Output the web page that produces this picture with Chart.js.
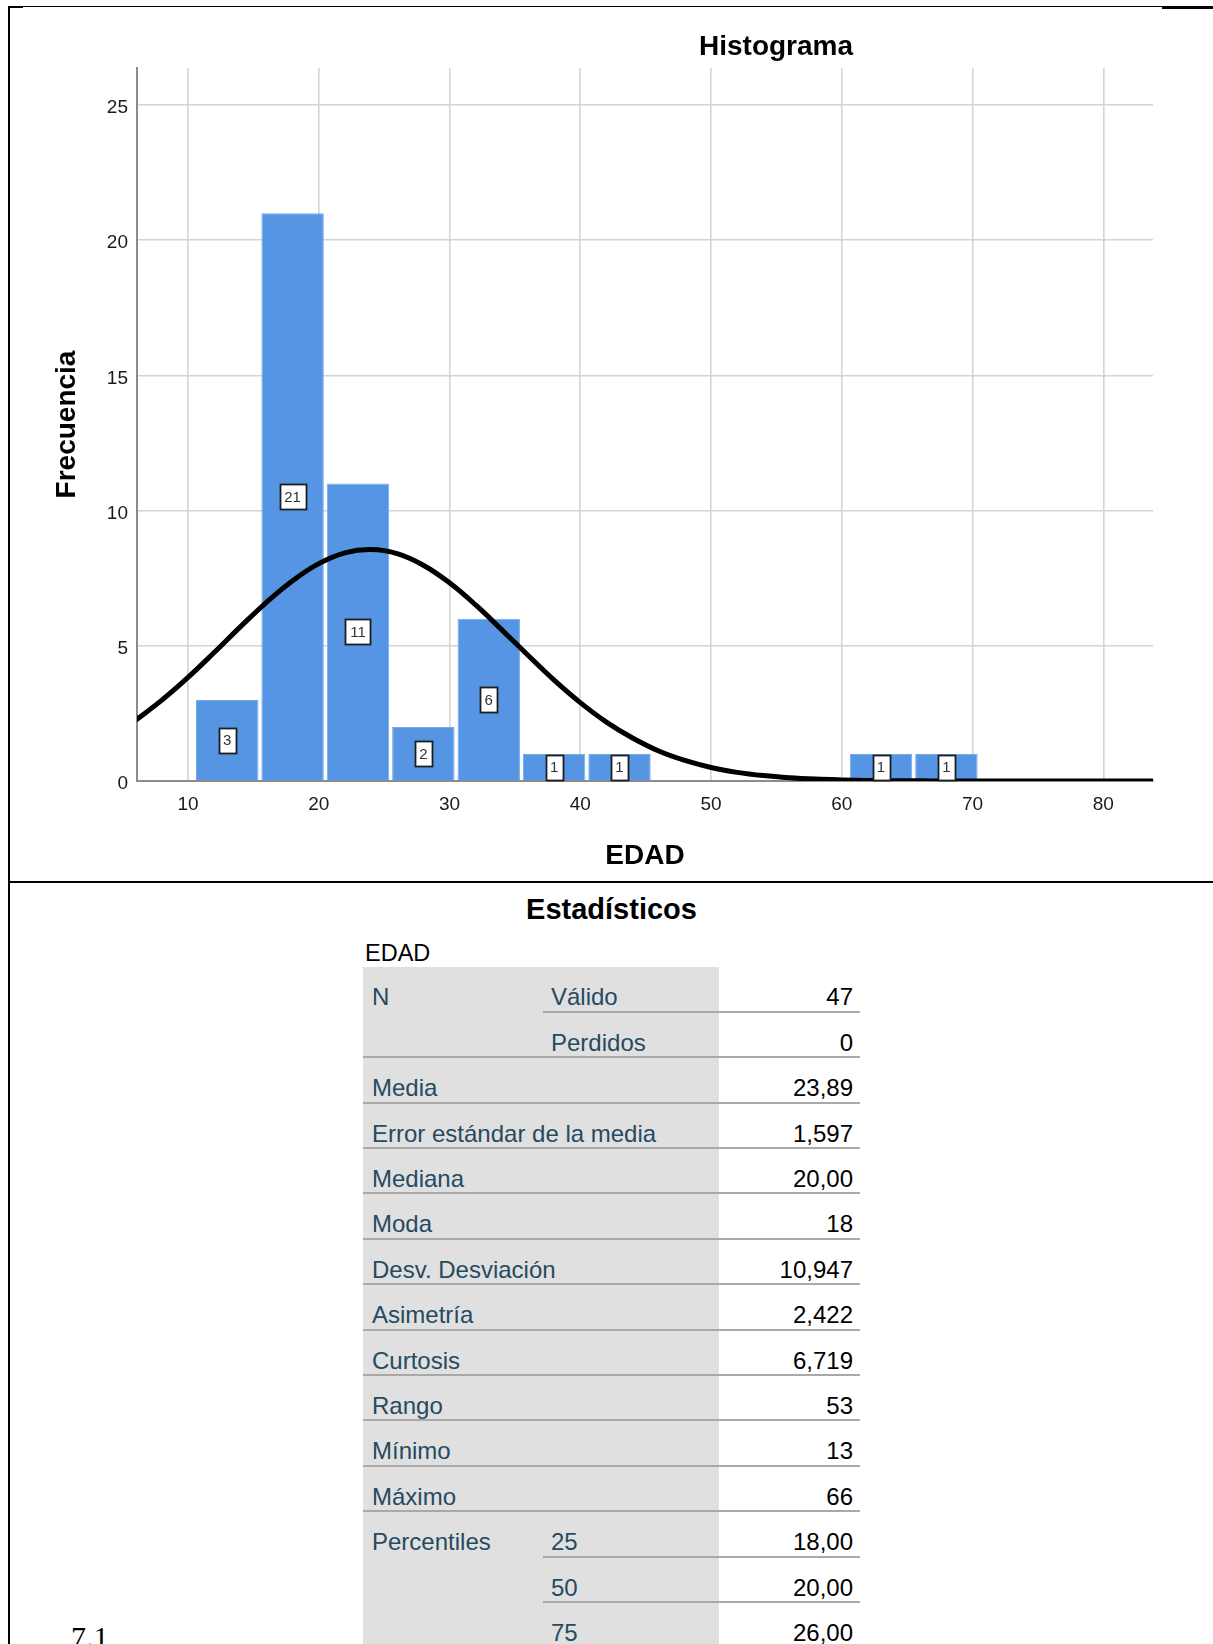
<!DOCTYPE html>
<html lang="es">
<head>
<meta charset="utf-8">
<title>Histograma – EDAD</title>
<script src="https://cdn.jsdelivr.net/npm/chart.js@4/dist/chart.umd.min.js"></script>
<style>
  html, body { margin: 0; padding: 0; background: #fff; }
  body {
    width: 1213px; height: 1644px; position: relative; overflow: hidden;
    font-family: "Liberation Sans", Arial, sans-serif;
  }
  #histo { position: absolute; left: 0; top: 0; }
  .rule { position: absolute; background: #000; z-index: 3; }
  .txt { position: absolute; white-space: nowrap; }
  .lbl { color: #264a60; }
  .val { color: #000; text-align: right; }
  .hline { position: absolute; background: #a9a9a9; height: 2px; }
  #statBand { position: absolute; left: 363px; top: 967px; width: 356px; height: 677px; background: #e0e0e0; }
</style>
</head>
<body>
<canvas id="histo" width="1213" height="880"></canvas>

<!-- frame -->
<div class="rule" style="left:8px;top:6px;width:1154px;height:1px;"></div>
<div class="rule" style="left:8px;top:6px;width:15px;height:2px;"></div>
<div class="rule" style="left:1162px;top:6px;width:51px;height:3px;"></div>
<div class="rule" style="left:8px;top:6px;width:2px;height:1638px;"></div>
<div class="rule" style="left:8px;top:881px;width:1205px;height:2px;"></div>

<div id="statBand"></div>
<div id="stats"></div>

<script>
// ---- histogram of EDAD (bins of width 5) ----
const binCenters = [13, 18, 23, 28, 33, 38, 43, 63, 68];
const binCounts  = [3, 21, 11, 2, 6, 1, 1, 1, 1];

// fitted normal curve (media 23,89; desv. 10,947; N = 47)
const curveX = [6, 8, 10, 12, 14, 16, 18, 20, 22, 24, 26, 28, 30, 32, 34, 36, 38, 40, 42, 44,
                46, 48, 50, 52, 54, 56, 58, 60, 62, 64, 66, 68, 70, 72, 74, 76, 78, 80, 82, 84];
const curveY = [2.25, 2.99, 3.83, 4.75, 5.70, 6.61, 7.41, 8.04, 8.44, 8.56, 8.41, 7.98, 7.33, 6.51,
                5.59, 4.65, 3.73, 2.90, 2.18, 1.59, 1.11, 0.76, 0.50, 0.32, 0.20, 0.12, 0.07, 0.04,
                0.02, 0.01, 0.005, 0, 0, 0, 0, 0, 0, 0, 0, 0];

const xTickValues = [10, 20, 30, 40, 50, 60, 70, 80];
const yTickValues = [0, 5, 10, 15, 20, 25];

// ---- statistics table ----
const statGroup = ['N', '', 'Media', 'Error estándar de la media', 'Mediana', 'Moda',
                   'Desv. Desviación', 'Asimetría', 'Curtosis', 'Rango', 'Mínimo', 'Máximo',
                   'Percentiles', '', ''];
const statSub   = ['Válido', 'Perdidos', '', '', '', '', '', '', '', '', '', '', '25', '50', '75'];
const statValue = ['47', '0', '23,89', '1,597', '20,00', '18', '10,947', '2,422', '6,719',
                   '53', '13', '66', '18,00', '20,00', '26,00'];

const FONT = '"Liberation Sans", Arial, sans-serif';
Chart.defaults.font.family = FONT;

// boxed count in the middle of each bar
const countLabels = {
  id: 'countLabels',
  afterDatasetsDraw(chart) {
    const ctx = chart.ctx;
    const meta = chart.getDatasetMeta(0);
    const values = chart.data.datasets[0].data;
    ctx.save();
    ctx.font = '15px ' + FONT;
    ctx.textAlign = 'center';
    ctx.textBaseline = 'middle';
    meta.data.forEach((bar, i) => {
      const txt = String(values[i].y);
      const cx = bar.x;
      const cy = (bar.y + bar.base) / 2;
      const w = Math.round(ctx.measureText(txt).width + 9);
      const h = 25;
      const x0 = Math.round(cx - w / 2) + 0.5, y0 = Math.round(cy - h / 2) + 0.5;
      ctx.fillStyle = '#ffffff';
      ctx.fillRect(x0, y0, w, h);
      ctx.lineWidth = 1.8;
      ctx.strokeStyle = '#1e1e1e';
      ctx.strokeRect(x0, y0, w, h);
      ctx.fillStyle = '#333333';
      ctx.fillText(txt, cx, cy + 1);
    });
    ctx.restore();
  }
};

const heading = {
  id: 'heading',
  afterDraw(chart) {
    const ctx = chart.ctx;
    ctx.save();
    ctx.font = 'bold 28px ' + FONT;
    ctx.fillStyle = '#000';
    ctx.textAlign = 'center';
    ctx.textBaseline = 'middle';
    ctx.fillText('Histograma', 776, 47);
    ctx.restore();
  }
};

const gridStyle = { color: '#d4d4d4', lineWidth: 1.6, drawTicks: false, offset: false };
const axisLine = { color: '#8c8c8c', width: 2 };

new Chart(document.getElementById('histo'), {
  type: 'bar',
  data: {
    datasets: [
      {
        type: 'bar',
        label: 'Frecuencia',
        data: binCenters.map((x, i) => ({ x: x, y: binCounts[i] })),
        backgroundColor: '#5595e3',
        borderColor: '#75a9ea',
        borderWidth: 1,
        barPercentage: 0.955,
        categoryPercentage: 1,
        order: 1
      },
      {
        type: 'line',
        label: 'Normal',
        data: curveX.map((x, i) => ({ x: x, y: curveY[i] })),
        borderColor: '#000',
        borderWidth: 5,
        pointRadius: 0,
        tension: 0.4,
        fill: false,
        order: 0
      }
    ]
  },
  options: {
    responsive: false,
    animation: false,
    devicePixelRatio: 1,
    layout: { padding: { top: 68, right: 60, bottom: 0, left: 0 } },
    plugins: { legend: { display: false }, tooltip: { enabled: false }, title: { display: false } },
    scales: {
      x: {
        type: 'linear',
        min: 6.1,
        max: 83.8,
        offset: false,
        afterBuildTicks: s => { s.ticks = xTickValues.map(v => ({ value: v })); },
        afterFit: s => { s.height = 99; },
        grid: gridStyle,
        border: axisLine,
        ticks: { padding: 12, color: '#1a1a1a', font: { size: 19 }, maxRotation: 0 },
        title: { display: true, text: 'EDAD', color: '#000',
                 font: { size: 28, weight: 'bold' }, padding: { top: 0, bottom: 7 } }
      },
      y: {
        type: 'linear',
        min: 0,
        max: 26.37,
        afterBuildTicks: s => { s.ticks = yTickValues.map(v => ({ value: v })); },
        afterFit: s => { s.width = 137; },
        grid: gridStyle,
        border: axisLine,
        ticks: { padding: 9, labelOffset: 3, color: '#1a1a1a', font: { size: 19 } },
        title: { display: true, text: 'Frecuencia', color: '#000',
                 font: { size: 28, weight: 'bold' }, padding: { top: 50, bottom: 0 } }
      }
    }
  },
  plugins: [countLabels, heading]
});

// ---- build the statistics table ----
const host = document.getElementById('stats');
function placeText(text, left, baseline, size, cls, extra) {
  const d = document.createElement('div');
  d.className = 'txt ' + (cls || '');
  d.textContent = text;
  d.style.fontSize = size + 'px';
  d.style.lineHeight = size + 'px';
  d.style.top = (baseline - 0.8465 * size) + 'px';
  d.style.left = left + 'px';
  if (extra) Object.assign(d.style, extra);
  host.appendChild(d);
  return d;
}

placeText('Estadísticos', 363, 920, 29, '', { width: '497px', textAlign: 'center', fontWeight: 'bold', color: '#000' });
placeText('EDAD', 365, 962, 23.5, '', { color: '#000' });

const ROW0_LINE = 1011.7, ROW_STEP = 45.4, TS = 24;
statValue.forEach((v, i) => {
  const lineY = ROW0_LINE + i * ROW_STEP;
  const base = lineY - 6;
  if (statGroup[i]) placeText(statGroup[i], 372, base, TS, 'lbl');
  if (statSub[i]) placeText(statSub[i], 551, base, TS, 'lbl');
  placeText(v, 720, base, TS, 'val', { width: '133px' });
  const continues = i + 1 < statGroup.length && statGroup[i + 1] === '';
  const x0 = continues ? 543 : 363;
  const r = document.createElement('div');
  r.className = 'hline';
  r.style.left = x0 + 'px';
  r.style.width = (860 - x0) + 'px';
  r.style.top = Math.round(lineY - 1) + 'px';
  host.appendChild(r);
});

// page number line at the foot
const foot = document.createElement('div');
foot.className = 'txt';
foot.textContent = '7.1';
foot.style.fontFamily = '"Liberation Serif", "Times New Roman", serif';
foot.style.fontSize = '30px';
foot.style.lineHeight = '30px';
foot.style.left = '71px';
foot.style.top = (1647 - 0.8375 * 30) + 'px';
document.body.appendChild(foot);
</script>
</body>
</html>
